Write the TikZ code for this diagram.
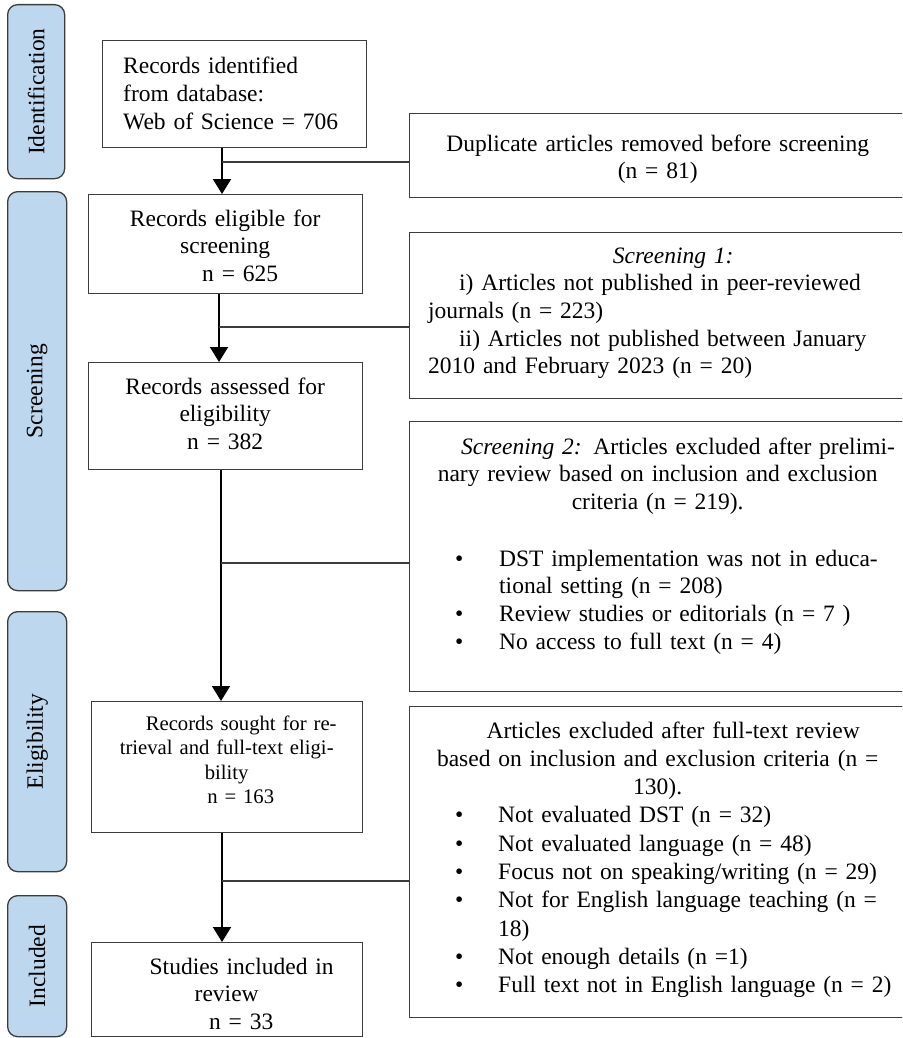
\documentclass[tikz,border=0pt]{standalone}
\usepackage{fontspec}
\setmainfont{Liberation Serif}
\usetikzlibrary{arrows.meta}
\definecolor{tabblue}{HTML}{BDD7EE}
\definecolor{edgegray}{HTML}{3C3C3C}
\begin{document}
\begin{tikzpicture}[x=1pt,y=-1pt,
  box/.style={draw=edgegray, line width=1.4pt, rectangle, inner sep=0pt, anchor=north west},
  tab/.style={draw=edgegray, fill=tabblue, line width=1.3pt, rounded corners=10pt, inner sep=0pt, anchor=north west},
  tablabel/.style={rotate=90, font=\fontsize{23.5pt}{28pt}\selectfont, inner sep=0pt},
  txt/.style={font=\fontsize{23.5pt}{27.7pt}\selectfont, inner sep=0pt, anchor=base west},
  smalltxt/.style={font=\fontsize{20.7pt}{24.5pt}\selectfont, inner sep=0pt, anchor=base west},
  flow/.style={line width=2pt, -{Triangle[width=18pt,length=15pt]}},
  branch/.style={draw=edgegray, line width=1.3pt}]
\useasboundingbox (0,0) rectangle (902,1038);
\clip (0,0) rectangle (902,1038);

% phase tabs
\node[tab, minimum width=57pt, minimum height=174pt] (t1) at (7,4) {};
\node[tab, minimum width=59pt, minimum height=399pt] (t2) at (7,191) {};
\node[tab, minimum width=59pt, minimum height=260pt] (t3) at (7,611) {};
\node[tab, minimum width=59pt, minimum height=141pt] (t4) at (7,895) {};
\node[tablabel] (t1l) at (t1.center) {Identification};
\node[tablabel] (t2l) at (t2.center) {Screening};
\node[tablabel] (t3l) at (t3.center) {Eligibility};
\node[tablabel] (t4l) at (t4.center) {Included};

% main flow boxes
\node[box, minimum width=264pt, minimum height=107pt] (b1) at (102,40) {};
\node[box, minimum width=274pt, minimum height=99pt] (b2) at (88,194) {};
\node[box, minimum width=274pt, minimum height=107pt] (b3) at (88,362) {};
\node[box, minimum width=271pt, minimum height=131pt] (b4) at (91,701) {};
\node[box, minimum width=271pt, minimum height=94pt] (b5) at (91,942) {};

% exclusion boxes (they run past the right margin)
\node[box, minimum width=499pt, minimum height=84pt] (r1) at (409,113) {};
\node[box, minimum width=499pt, minimum height=166pt] (r2) at (409,232) {};
\node[box, minimum width=499pt, minimum height=270pt] (r3) at (409,421) {};
\node[box, minimum width=499pt, minimum height=311pt] (r4) at (409,706) {};

% texts of the main flow
\node[txt, text width=240pt, align=left] (b1t) at (123,74)
  {Records identified\\ from database:\\ Web of Science = 706};
\node[txt, text width=274pt, align=center] (b2t) at (88,226)
  {Records eligible for\\ screening\\ \hspace*{30pt}n = 625};
\node[txt, text width=274pt, align=center] (b3t) at (88,394)
  {Records assessed for\\ eligibility\\ n = 382};
\node[smalltxt, text width=271pt, align=center] (b4t) at (91,730)
  {\hspace*{29pt}Records sought for re-\\ trieval and full-text eligi-\\ bility\\ \hspace*{28pt}n = 163};
\node[txt, text width=271pt, align=center] (b5t) at (91,974)
  {\hspace*{30pt}Studies included in\\ review\\ \hspace*{29pt}n = 33};

% texts of the exclusion boxes
\node[txt, text width=459pt, align=center] (r1t) at (428,151)
  {Duplicate articles removed before screening\\ (n = 81)};
\node[txt, text width=500pt, align=left] (r2t) at (428,263)
  {\hspace*{31pt}\makebox[428pt]{\textit{Screening 1:}}\\
   \hspace*{31pt}\makebox[428pt][s]{i) Articles not published in peer-reviewed}\\
   journals (n = 223)\\
   \hspace*{31pt}\makebox[428pt][s]{ii) Articles not published between January}\\
   2010 and February 2023 (n = 20)};
\node[txt, text width=500pt, align=left] (r3t) at (428,454)
  {\hspace*{33pt}\makebox[424pt][s]{\textit{Screening 2:} Articles excluded after prelimi-}\\
   \makebox[459pt]{nary review based on inclusion and exclusion}\\
   \makebox[459pt]{criteria (n = 219).}\\[29pt]
   \hspace*{27pt}\makebox[44pt][l]{•}\makebox[386pt][s]{DST implementation was not in educa-}\\
   \hspace*{71pt}tional setting (n = 208)\\
   \hspace*{27pt}\makebox[44pt][l]{•}Review studies or editorials (n = 7 )\\
   \hspace*{27pt}\makebox[44pt][l]{•}No access to full text (n = 4)};
\node[txt, text width=500pt, align=left, font=\fontsize{23.5pt}{28.3pt}\selectfont] (r4t) at (428,738)
  {\hspace*{31pt}\makebox[428pt]{Articles excluded after full-text review}\\
   \makebox[459pt]{based on inclusion and exclusion criteria (n =}\\
   \makebox[459pt]{130).}\\
   \hspace*{27pt}\makebox[43pt][l]{•}Not evaluated DST (n = 32)\\
   \hspace*{27pt}\makebox[43pt][l]{•}Not evaluated language (n = 48)\\
   \hspace*{27pt}\makebox[43pt][l]{•}Focus not on speaking/writing (n = 29)\\
   \hspace*{27pt}\makebox[43pt][l]{•}\makebox[385pt][s]{Not for English language teaching (n =}\\
   \hspace*{70pt}18)\\
   \hspace*{27pt}\makebox[43pt][l]{•}Not enough details (n =1)\\
   \hspace*{27pt}\makebox[43pt][l]{•}Full text not in English language (n = 2)};

% spine positions and junctions
\coordinate (s1) at (222,0);
\coordinate (s2) at (219,0);
\coordinate (s3) at (221,0);
\coordinate (s4) at (222,0);
\coordinate (j1) at (222,162);
\coordinate (j2) at (219,327);
\coordinate (j3) at (221,563);
\coordinate (j4) at (222,881);

% flow arrows
\draw[flow] (b1.south -| s1) -- (b2.north -| s1);
\draw[flow] (b2.south -| s2) -- (b3.north -| s2);
\draw[flow] (b3.south -| s3) -- (b4.north -| s3);
\draw[flow] (b4.south -| s4) -- (b5.north -| s4);

% branches to the exclusion boxes
\draw[branch] (j1) -- (r1.west |- j1);
\draw[branch] (j2) -- (r2.west |- j2);
\draw[branch] (j3) -- (r3.west |- j3);
\draw[branch] (j4) -- (r4.west |- j4);
\end{tikzpicture}
\end{document}
